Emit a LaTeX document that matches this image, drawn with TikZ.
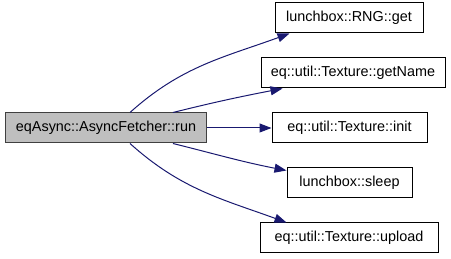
\documentclass[tikz,border=0pt]{standalone}
\usepackage{fontspec}
\setmainfont{Liberation Sans}
\usetikzlibrary{arrows.meta}
\definecolor{navyline}{HTML}{191970}
\definecolor{rootfill}{HTML}{BFBFBF}
\definecolor{rootline}{HTML}{404040}

\begin{document}
\begin{tikzpicture}[x=0.75pt, y=-0.75pt,
	fnbox/.style={shape=rectangle, draw=black, fill=white, line width=0.75pt, minimum height=22.5pt, inner sep=0pt, font=\fontsize{10.8}{12}\selectfont},
	call/.style={draw=navyline, line width=0.75pt, -{Triangle[length=9pt, width=6.75pt]}, fill=none}]
	\useasboundingbox (0,0) rectangle (451,259);
	% Caller and callees:
	\node[fnbox, fill=rootfill, draw=rootline, minimum width=150.75pt] (run) at (106,128) {eqAsync::AsyncFetcher::run};
	\node[fnbox, minimum width=111pt] (get) at (349,18) {lunchbox::RNG::get};
	\node[fnbox, minimum width=138pt] (getName) at (353,73) {eq::util::Texture::getName};
	\node[fnbox, minimum width=116.25pt] (init) at (349.5,128) {eq::util::Texture::init};
	\node[fnbox, minimum width=93.75pt] (sleep) at (349.5,183) {lunchbox::sleep};
	\node[fnbox, minimum width=133.5pt] (upload) at (349,238) {eq::util::Texture::upload};
	% Call edges:
	\draw[call] ([xshift=18pt]run.north) to[out=42, in=200] ([xshift=11.25pt]get.south west);
	\draw[call] ([xshift=-25.5pt]run.north east) to[out=14, in=191] ([xshift=16.5pt]getName.south west);
	\draw[call] (run.east) -- (init.west);
	\draw[call] ([xshift=-25.5pt]run.south east) to[out=-14, in=169] ([yshift=-2.25pt]sleep.north west);
	\draw[call] ([xshift=18pt]run.south) to[out=-42, in=160] ([xshift=20.25pt]upload.north west);
\end{tikzpicture}
\end{document}
